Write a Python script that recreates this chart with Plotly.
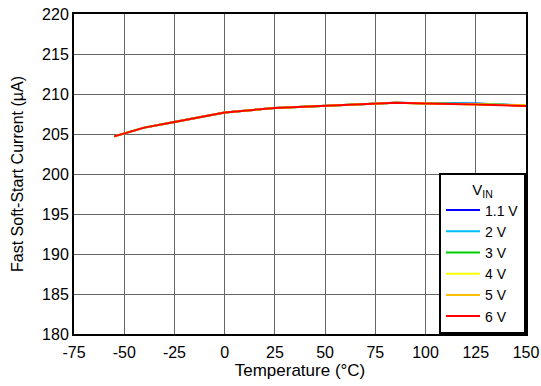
import plotly.graph_objects as go

temps = [-55, -40, -25, 0, 25, 50, 75, 85, 100, 125, 150]
vin_labels = ["1.1 V", "2 V", "3 V", "4 V", "5 V", "6 V"]
colors = ["#0000FF", "#00BFFF", "#00CC00", "#FFFF00", "#FFC000", "#FF0000"]
i_11 = [204.7, 205.8, 206.5, 207.7, 208.25, 208.5, 208.75, 208.9, 208.85, 208.8, 208.55]
i_2 = [204.7, 205.8, 206.5, 207.7, 208.25, 208.5, 208.75, 208.9, 208.85, 208.8, 208.6]
i_3 = [204.7, 205.8, 206.5, 207.7, 208.25, 208.5, 208.75, 208.9, 208.8, 208.75, 208.55]
i_4 = [204.7, 205.8, 206.5, 207.7, 208.25, 208.5, 208.75, 208.9, 208.8, 208.7, 208.6]
i_5 = [204.7, 205.8, 206.5, 207.7, 208.25, 208.5, 208.75, 208.9, 208.8, 208.7, 208.6]
i_6 = [204.7, 205.8, 206.5, 207.7, 208.25, 208.5, 208.75, 208.9, 208.8, 208.7, 208.5]
series = [i_11, i_2, i_3, i_4, i_5, i_6]

x_ticks = [-75, -50, -25, 0, 25, 50, 75, 100, 125, 150]
y_ticks = [180, 185, 190, 195, 200, 205, 210, 215, 220]

fig = go.Figure()
for name, col, vals in zip(vin_labels, colors, series):
    fig.add_trace(go.Scatter(x=temps, y=vals, mode="lines", name=name,
                             line=dict(color=col, width=2)))

font = dict(family="Liberation Sans, Arial, sans-serif", size=16, color="black")
fig.update_layout(
    width=541, height=386,
    margin=dict(l=74, r=15, t=14, b=52),
    paper_bgcolor="white", plot_bgcolor="white",
    font=font,
    showlegend=True,
    legend=dict(
        title=dict(text="V<sub>IN</sub>", side="top center", font=dict(size=15)),
        x=1, y=0, xanchor="right", yanchor="bottom",
        bgcolor="white", bordercolor="black", borderwidth=2,
        font=dict(size=14), tracegroupgap=0, itemwidth=34,
    ),
    xaxis=dict(
        title=dict(text="Temperature (°C)", standoff=4, font=dict(size=17)),
        range=[-75, 150], tickvals=x_ticks, ticktext=[str(v) for v in x_ticks],
        tickfont=dict(size=16), automargin=False, ticklabelstandoff=3,
        showgrid=True, gridcolor="#666666", gridwidth=1,
        showline=True, linecolor="black", linewidth=2, mirror=True,
        zeroline=False, ticks="",
    ),
    yaxis=dict(
        title=dict(text="Fast Soft-Start Current (µA)", standoff=14, font=dict(size=16)),
        range=[180, 220], tickvals=y_ticks, ticktext=[str(v) for v in y_ticks],
        tickfont=dict(size=16), automargin=False,
        showgrid=True, gridcolor="#666666", gridwidth=1,
        showline=True, linecolor="black", linewidth=2, mirror=True,
        zeroline=False, ticks="",
    ),
)
fig.write_html("out.html", config={"displayModeBar": False},
               post_script="document.body.style.margin='0';")
